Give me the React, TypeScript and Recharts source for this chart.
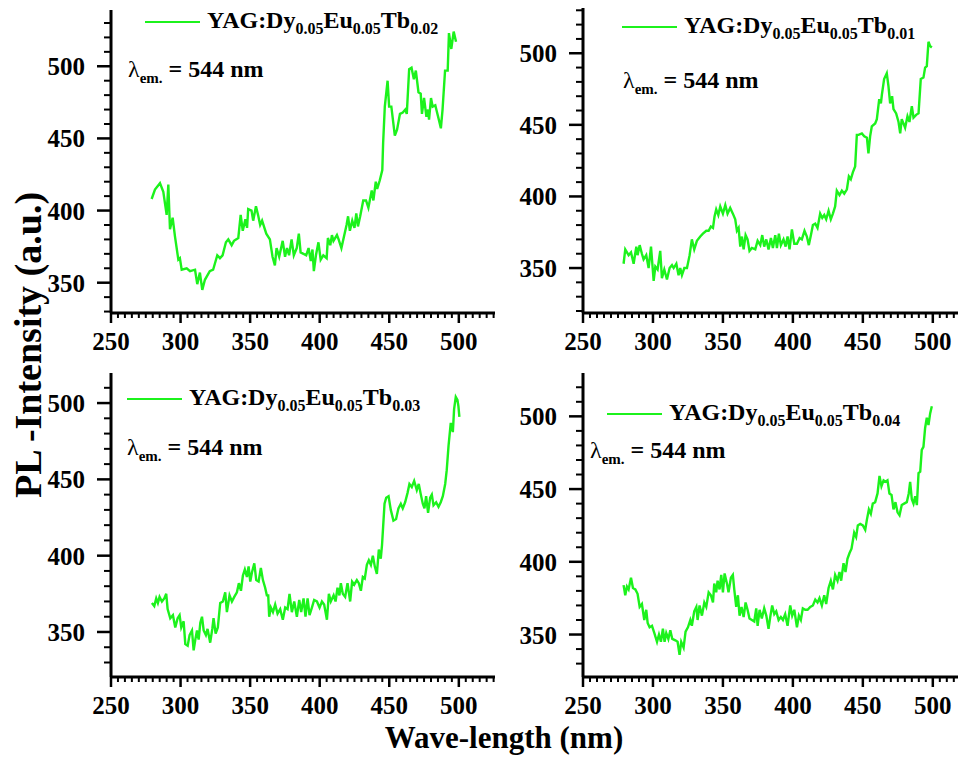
import React from 'react'
import { LineChart, Line, XAxis, YAxis, Legend } from 'recharts'

// PL excitation spectra (lambda_em = 544 nm)
// wavelength in nm, intensity in a.u.
const WL_TB002 = [279.2, 281.6, 285.2, 287.6, 290, 291.2, 292.4, 294.3, 296, 298.4, 299.5, 300.8, 304.4, 306.8, 310.4, 312, 313.9, 315.6, 317.5, 321, 323.4, 326.4, 328.3, 330.2, 332.6, 334.3, 336.7, 338.4, 341.5, 343.2, 344.7, 346.6, 347.8, 348.6, 351, 352.2, 354.2, 355.9, 357.2, 358.6, 361.6, 364.2, 366.1, 367.8, 369, 370.9, 373.4, 375.1, 376.5, 378, 379.8, 381.4, 383.5, 385, 386.3, 390.3, 392, 393.6, 394.8, 395.8, 397.3, 399.1, 400.7, 402.6, 405, 405.9, 407.6, 408.8, 409.9, 412.4, 413.6, 415.6, 419.3, 420.4, 421.7, 423.4, 425, 426.3, 427.5, 429.1, 431.3, 433.3, 435, 437.4, 438.6, 440.3, 441.3, 443.2, 445, 445.6, 446.8, 448.8, 449.9, 451.5, 454, 455.6, 457.7, 459.7, 461.5, 462.6, 464.3, 466, 467.7, 469.1, 471, 472.6, 473.5, 475, 476.7, 477.9, 478.6, 480, 481.2, 483.1, 484.1, 485.9, 487.1, 488.3, 490.1, 492, 492.9, 494.6, 496.3, 498]
const PL_TB002 = [408, 414.6, 419, 413, 397, 418, 387, 395, 382, 366, 367, 359, 360, 358, 359, 349, 357, 345, 352, 358, 359, 369, 367, 369, 378, 380, 376, 379, 381, 397, 386, 394, 388, 401, 400, 393, 403, 396, 390, 393, 384, 380, 368, 362, 374, 368, 379, 368, 374, 369, 380, 369, 374, 384, 371, 369, 374, 365, 373, 358, 369, 378, 366, 369, 367, 381, 376, 383, 379, 383, 380, 374, 390, 396, 386, 393, 388, 398, 389, 396, 407, 407, 402, 414, 407, 420, 415, 421, 428, 447, 472, 490, 472, 472, 452, 456, 467, 468, 470, 467, 498, 499, 491, 497, 482, 481, 467, 478, 465, 470, 463, 478, 472, 473, 469, 462, 457, 470, 497, 497, 523, 512, 524, 517]

const WL_TB001 = [279, 280.2, 282.6, 284.3, 286.2, 288.1, 289, 290.5, 292.1, 293.3, 295.2, 296.9, 298.6, 300.5, 301.7, 303.3, 305.2, 306.4, 308.1, 310, 311.9, 313.6, 314.8, 316.7, 318.3, 319.5, 320.7, 322.4, 324.3, 326.2, 327.8, 329.5, 331.4, 333.8, 335.7, 338.1, 339.8, 341.4, 342.9, 344, 345.2, 346.7, 348.1, 350, 351.7, 353.3, 355.2, 357.1, 358.8, 360, 361.2, 362.4, 363.6, 364.8, 366.2, 367.6, 369, 370.7, 373.1, 374.8, 376.7, 378.1, 379.5, 381, 382.6, 384.3, 385.7, 387.4, 388.6, 390, 391.4, 393.3, 394.8, 396.2, 397.6, 399.3, 401, 402.9, 404.8, 406.4, 408.3, 410, 411.4, 412.9, 414.3, 416, 417.6, 419.5, 421, 422.4, 423.8, 425.5, 427.1, 428.6, 430.2, 431.4, 433.3, 435, 436.7, 438.6, 440, 441.4, 442.9, 444.5, 445.7, 446.9, 449.3, 451, 452.9, 454, 455.2, 456.4, 458.8, 460, 461.7, 462.9, 463.6, 465.2, 467.1, 468.3, 469.5, 470.9, 471.9, 473.8, 475.5, 476.7, 477.8, 479, 480.2, 481.9, 483.3, 485, 486.2, 488.1, 489.8, 491.4, 493.3, 494.5, 495.7, 496.9, 498.1, 499.3]
const PL_TB001 = [353, 363, 359, 361, 353, 365, 359, 366, 360, 356, 359, 350, 365, 341, 351, 349, 362, 343, 349, 342, 350, 352, 350, 353, 345, 350, 345, 350, 350, 359, 370, 363, 369, 372, 374, 376, 376, 379, 378, 386, 391, 387, 393, 388, 394, 388, 392, 388, 384, 376, 378, 365, 372, 363, 373, 370, 362, 364, 363, 369, 366, 373, 365, 370, 363, 371, 364, 373, 364, 374, 366, 370, 365, 372, 363, 377, 367, 367, 371, 370, 376, 372, 366, 373, 380, 381, 378, 388, 385, 387, 384, 390, 384, 388, 393, 404, 401, 404, 402, 405, 414, 412, 417, 421, 443, 443, 444, 442, 441, 430, 442, 449, 451, 454, 468, 465, 471, 482, 486, 477, 465, 470, 461, 458, 452, 444, 454, 451, 448, 456, 452, 463, 455, 457, 458, 482, 483, 490, 491, 508, 505, 504]

const WL_TB003 = [279.4, 281.1, 282.5, 283.7, 284.9, 286.6, 288.3, 289.7, 290.7, 292.6, 294.5, 296.2, 297.9, 299.3, 300.5, 302.2, 303.4, 305.1, 306.5, 308.2, 309.4, 310.6, 311.8, 313, 314.2, 315.4, 316.6, 318.2, 319.4, 321.3, 322.8, 323.7, 325.2, 326.8, 328.5, 330.4, 332.1, 333.3, 335.2, 336.9, 338.6, 340.5, 341.9, 343.4, 344.8, 346.2, 347.7, 348.9, 350.1, 351.3, 353, 354.4, 356.1, 357.7, 359.2, 360.8, 362, 363, 363.7, 364.9, 366.4, 368, 369.7, 371.6, 373.5, 375.2, 376.9, 378.3, 380, 381.7, 383.6, 385.3, 386.7, 388.4, 389.8, 391.3, 392.7, 394.4, 396, 398, 399.9, 401.6, 403.2, 405.2, 406.6, 408, 410, 411.4, 412.8, 414.2, 415.2, 416.6, 418.3, 420, 421.9, 423.3, 424.8, 426.7, 428.1, 429.6, 431, 432.4, 433.9, 435.3, 436.8, 438.2, 439.6, 441.1, 442.5, 443.9, 444.8, 445.6, 446.6, 447.8, 449.5, 451.1, 453, 454.9, 456.6, 458.3, 459.7, 461.4, 463.1, 464.5, 466.2, 467.9, 469.8, 471.2, 472.7, 474.1, 475.3, 476.5, 477.9, 479.4, 480.6, 481.8, 483.7, 485.4, 487, 488.5, 490.2, 491.3, 492.6, 494.2, 495.7, 496.6, 497.8, 499, 499.7, 500.4]
const PL_TB003 = [369, 367, 372, 369, 373, 370, 372, 375, 365, 359, 361, 353, 359, 361, 353, 357, 342, 341, 348, 351, 338, 345, 351, 345, 356, 360, 351, 348, 352, 343, 352, 359, 349, 353, 369, 370, 376, 363, 374, 370, 373, 376, 382, 377, 387, 391, 386, 393, 383, 389, 395, 384, 383, 392, 384, 379, 374, 374, 360, 366, 363, 368, 362, 365, 358, 366, 365, 375, 363, 370, 360, 371, 363, 372, 360, 372, 361, 366, 371, 370, 366, 370, 368, 358, 375, 370, 374, 370, 379, 374, 382, 375, 373, 382, 370, 383, 381, 384, 382, 377, 386, 385, 394, 397, 394, 400, 393, 388, 404, 398, 407, 419, 434, 438, 439, 430, 423, 424, 431, 434, 431, 435, 441, 447, 445, 449, 443, 447, 440, 434, 431, 439, 428, 438, 440, 433, 435, 432, 435, 439, 447, 456, 472, 487, 481, 496, 504, 502, 498, 491]

const WL_TB004 = [279, 280.2, 281.4, 282.6, 284.3, 285.7, 287.4, 289, 290.5, 292.1, 293.8, 295.2, 296.2, 297.6, 299.3, 301, 302.9, 304.3, 305.7, 307.1, 308.3, 309.5, 311, 312.4, 313.8, 316, 317.6, 319, 320.2, 321.9, 323.3, 325, 326.7, 327.8, 329.5, 331, 331.9, 333.3, 335, 336.7, 338.1, 339.8, 341.4, 342.9, 343.8, 345.2, 346.2, 347.6, 348.8, 350, 351.2, 352.9, 354, 355.7, 357.1, 358.1, 359.5, 360.7, 361.9, 363.3, 364.8, 366.2, 367.6, 369, 370.7, 372.4, 373.8, 374.8, 376.2, 377.8, 379.5, 381, 382.6, 383.8, 385.2, 386.7, 388.1, 389.8, 391.4, 392.9, 394.5, 396.2, 398.1, 399.5, 401, 402.9, 404.3, 405.7, 407.1, 408.8, 410.5, 412.4, 414.3, 416, 417.6, 419, 420.7, 422.4, 423.8, 425.5, 427.1, 428.6, 430.2, 431.9, 433.3, 434.5, 436.2, 437.6, 439, 440.5, 441.9, 443.8, 445.2, 446.4, 448.1, 450, 451.7, 452.9, 454.3, 455.7, 457.1, 458.8, 460.5, 461.9, 463.3, 464.8, 466.2, 467.6, 469, 470.5, 471.9, 473.3, 474.8, 476.2, 477.8, 479.5, 481.4, 482.8, 483.8, 485, 486.2, 487.4, 488.6, 489.8, 491, 492.1, 493.3, 494.5, 495.7, 496.9, 498.1, 499.3]
const PL_TB004 = [384, 377, 383, 381, 389, 382, 381, 378, 369, 371, 360, 367, 358, 355, 356, 351, 345, 350, 345, 354, 345, 351, 347, 353, 347, 346, 345, 336, 345, 341, 352, 355, 360, 356, 366, 369, 360, 370, 363, 372, 369, 379, 377, 372, 385, 379, 387, 381, 391, 379, 392, 385, 379, 389, 391, 381, 369, 377, 363, 369, 362, 372, 367, 361, 360, 359, 368, 356, 367, 361, 368, 363, 354, 362, 370, 364, 366, 360, 362, 360, 364, 356, 370, 363, 367, 355, 363, 360, 368, 367, 367, 369, 370, 374, 372, 375, 370, 377, 371, 382, 387, 381, 391, 387, 393, 387, 399, 393, 402, 406, 409, 420, 417, 425, 426, 425, 422, 429, 436, 433, 440, 441, 447, 459, 452, 456, 455, 456, 447, 446, 436, 441, 434, 432, 439, 440, 441, 447, 455, 443, 440, 445, 439, 461, 462, 477, 479, 492, 499, 494, 502, 507]

const TB_CONTENT = ['0.02', '0.01', '0.03', '0.04']
const X_MAJOR = [250, 300, 350, 400, 450, 500]
const Y_MAJOR = [350, 400, 450, 500]

const FONT = '"Liberation Serif", "Times New Roman", Times, serif'
const GREEN = '#1cf21c'

const SERIES = [
  { wl: WL_TB002, pl: PL_TB002, tb: TB_CONTENT[0] },
  { wl: WL_TB001, pl: PL_TB001, tb: TB_CONTENT[1] },
  { wl: WL_TB003, pl: PL_TB003, tb: TB_CONTENT[2] },
  { wl: WL_TB004, pl: PL_TB004, tb: TB_CONTENT[3] },
]

// panel boxes, tuned against the original figure
const LAYOUT = [
  { left: 0, top: 0, width: 500, height: 360, mTop: 10, mRight: 5, yW: 111, xH: 47, xMax: 526, yMin: 329, yMax: 539, leg: [145, 8], lam: [128, 57] },
  { left: 480, top: 0, width: 478, height: 360, mTop: 8, mRight: 0, yW: 103, xH: 47, xMax: 518, yMin: 318.6, yMax: 531.6, leg: [142, 13], lam: [143, 68] },
  { left: 0, top: 363, width: 500, height: 360, mTop: 10, mRight: 5, yW: 111, xH: 46, xMax: 526, yMin: 320.5, yMax: 519.7, leg: [127, 22], lam: [127, 72] },
  { left: 480, top: 363, width: 478, height: 360, mTop: 10, mRight: 0, yW: 103, xH: 46, xMax: 518, yMin: 320.8, yMax: 529.8, leg: [127, 37], lam: [110, 75] },
]

function tickRange(min: number, max: number, step: number) {
  const out: number[] = []
  for (let v = Math.ceil(min / step) * step; v <= max; v += step) out.push(v)
  return out
}

function XTick(props: any) {
  const { x, y, payload } = props
  const v = payload.value
  const major = X_MAJOR.includes(v)
  return (
    <g>
      <line x1={x} x2={x} y1={y} y2={y + (major ? 10 : 5)} stroke="#000" strokeWidth={major ? 2.5 : 2} />
      {major && (
        <text x={x} y={y + 37} textAnchor="middle" style={{ fontFamily: FONT, fontWeight: 700, fontSize: 25 }} fill="#000">
          {v}
        </text>
      )}
    </g>
  )
}

function YTick(props: any) {
  const { x, y, payload } = props
  const v = payload.value
  const major = Y_MAJOR.includes(v)
  return (
    <g>
      <line x1={x - (major ? 14 : 7)} x2={x} y1={y} y2={y} stroke="#000" strokeWidth={major ? 2.5 : 2} />
      {major && (
        <text x={x - 26} y={y + 9} textAnchor="end" style={{ fontFamily: FONT, fontWeight: 700, fontSize: 25 }} fill="#000">
          {v}
        </text>
      )}
    </g>
  )
}

const Sub = ({ children, size = 16 }: { children: React.ReactNode; size?: number }) => (
  <span style={{ fontSize: size, position: 'relative', top: 6 }}>{children}</span>
)

function Panel({ idx }: { idx: number }) {
  const s = SERIES[idx]
  const L = LAYOUT[idx]
  const data = s.wl.map((w, i) => ({ wl: w, pl: s.pl[i] }))
  return (
    <div style={{ position: 'absolute', left: L.left, top: L.top, width: L.width, height: L.height }}>
      <LineChart
        width={L.width}
        height={L.height}
        data={data}
        margin={{ top: L.mTop, right: L.mRight, bottom: 0, left: 0 }}
      >
        <XAxis
          type="number"
          dataKey="wl"
          domain={[250, L.xMax]}
          allowDataOverflow
          ticks={tickRange(250, L.xMax, 5)}
          interval={0}
          height={L.xH}
          tickSize={0}
          tickMargin={0}
          tickLine={false}
          axisLine={{ stroke: '#000', strokeWidth: 3 }}
          tick={<XTick />}
        />
        <YAxis
          type="number"
          domain={[L.yMin, L.yMax]}
          allowDataOverflow
          ticks={tickRange(L.yMin, L.yMax, 10)}
          interval={0}
          width={L.yW}
          tickSize={0}
          tickMargin={0}
          tickLine={false}
          axisLine={{ stroke: '#000', strokeWidth: 3 }}
          tick={<YTick />}
        />
        <Legend
          layout="horizontal"
          verticalAlign="middle"
          align="center"
          wrapperStyle={{ left: L.leg[0], top: L.leg[1], width: 340, height: 30 }}
          content={() => (
            <div style={{ display: 'flex', alignItems: 'center', fontFamily: FONT, fontWeight: 'bold', fontSize: 24, lineHeight: '24px', color: '#000', whiteSpace: 'nowrap' }}>
              <span style={{ display: 'inline-block', width: 55, height: 2, background: GREEN, marginRight: 7 }} />
              <span>
                YAG:Dy<Sub>0.05</Sub>Eu<Sub>0.05</Sub>Tb<Sub>{s.tb}</Sub>
              </span>
            </div>
          )}
        />
        <Line
          type="linear"
          dataKey="pl"
          stroke={GREEN}
          strokeWidth={2.4}
          dot={false}
          isAnimationActive={false}
        />
      </LineChart>
      <div style={{ position: 'absolute', left: L.lam[0], top: L.lam[1], fontFamily: FONT, fontWeight: 'bold', fontSize: 24, lineHeight: '24px', whiteSpace: 'nowrap' }}>
        <span style={{ fontWeight: 'normal' }}>λ</span>
        <Sub size={15}>em.</Sub> = 544 nm
      </div>
    </div>
  )
}

export default function App() {
  return (
    <div style={{ position: 'relative', width: 958, height: 759, background: '#fff', overflow: 'hidden' }}>
      <style>{'body{margin:0}'}</style>
      {[0, 1, 2, 3].map((i) => (
        <Panel key={i} idx={i} />
      ))}
      <div
        style={{
          position: 'absolute', left: 28 - 250, top: 345 - 22, width: 500, height: 44,
          textAlign: 'center', transform: 'rotate(-90deg)', fontFamily: FONT, fontWeight: 'bold',
          fontSize: 38, lineHeight: '44px', color: '#000', whiteSpace: 'nowrap',
        }}
      >
        PL -Intensity (a.u.)
      </div>
      <div
        style={{
          position: 'absolute', left: 504 - 200, top: 721, width: 400, textAlign: 'center',
          fontFamily: FONT, fontWeight: 'bold', fontSize: 31, lineHeight: '34px', color: '#000',
        }}
      >
        Wave-length (nm)
      </div>
    </div>
  )
}
